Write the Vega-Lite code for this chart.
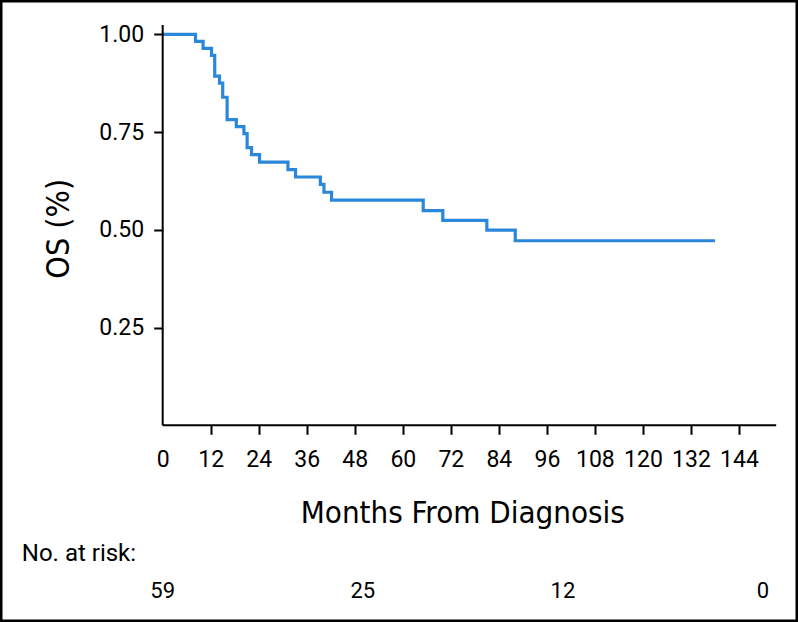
{
  "$schema": "https://vega.github.io/schema/vega-lite/v6.json",
  "width": 798,
  "height": 622,
  "autosize": "none",
  "padding": 0,
  "background": "white",
  "config": {
    "view": {"stroke": "black", "strokeWidth": 5},
    "axis": {"grid": false, "domain": false}
  },
  "layer": [
    {
      "data": {"values": [
        {"month": 0, "os": 1.0},
        {"month": 8.2, "os": 0.982},
        {"month": 10.1, "os": 0.964},
        {"month": 12.2, "os": 0.946},
        {"month": 13.0, "os": 0.893},
        {"month": 14.2, "os": 0.875},
        {"month": 15.0, "os": 0.839},
        {"month": 16.1, "os": 0.782},
        {"month": 18.4, "os": 0.764},
        {"month": 20.3, "os": 0.746},
        {"month": 21.1, "os": 0.71},
        {"month": 22.2, "os": 0.692},
        {"month": 24.2, "os": 0.673},
        {"month": 31.3, "os": 0.654},
        {"month": 33.2, "os": 0.635},
        {"month": 39.4, "os": 0.616},
        {"month": 40.3, "os": 0.596},
        {"month": 42.2, "os": 0.576},
        {"month": 65.1, "os": 0.549},
        {"month": 70.0, "os": 0.524},
        {"month": 81.0, "os": 0.499},
        {"month": 88.1, "os": 0.472},
        {"month": 138.0, "os": 0.472}
      ]},
      "mark": {"type": "line", "interpolate": "step-after", "color": "#2a87d9", "strokeWidth": 3.2},
      "encoding": {
        "x": {
          "field": "month", "type": "quantitative",
          "scale": {"domain": [-40.65, 158.75], "nice": false, "zero": false},
          "axis": {
            "orient": "bottom", "offset": -196.7,
            "values": [0, 12, 24, 36, 48, 60, 72, 84, 96, 108, 120, 132, 144],
            "tickSize": 9, "tickWidth": 2, "tickColor": "black",
            "tickOpacity": {"condition": {"test": "datum.value === 0", "value": 0}, "value": 1},
            "labelFont": "Roboto", "labelFontSize": 23, "labelColor": "black",
            "labelPadding": 32, "labelBaseline": "alphabetic", "labelFlush": false, "labelOverlap": false,
            "title": "Months From Diagnosis",
            "titleFont": "DejaVu Sans Condensed, DejaVu Sans, sans-serif",
            "titleFontSize": 31, "titleFontWeight": "normal", "titleColor": "black",
            "titleX": 462.3, "titleY": 97.4, "titleAlign": "center", "titleBaseline": "alphabetic", "titleAnchor": null
          }
        },
        "y": {
          "field": "os", "type": "quantitative",
          "scale": {"domain": [-0.5031, 1.0877], "nice": false, "zero": false},
          "axis": {
            "orient": "left", "offset": -162.7,
            "values": [0.25, 0.5, 0.75, 1.0], "format": ".2f",
            "tickSize": 9, "tickWidth": 2, "tickColor": "black",
            "labelFont": "Roboto", "labelFontSize": 23, "labelColor": "black",
            "labelPadding": 10, "labelFlush": false, "labelOverlap": false,
            "title": "OS (%)",
            "titleFont": "DejaVu Sans Condensed, DejaVu Sans, sans-serif",
            "titleFontSize": 32, "titleFontWeight": "normal", "titleColor": "black",
            "titleAngle": -90, "titleX": -94.4, "titleY": 228.3, "titleAlign": "center", "titleBaseline": "alphabetic", "titleAnchor": null
          }
        }
      }
    },
    {
      "data": {"values": [{}]},
      "mark": {"type": "rule", "color": "black", "strokeWidth": 2},
      "encoding": {
        "x": {"datum": 0, "type": "quantitative"},
        "x2": {"datum": 153.3},
        "y": {"datum": 0, "type": "quantitative"}
      }
    },
    {
      "data": {"values": [{}]},
      "mark": {"type": "rule", "color": "black", "strokeWidth": 2},
      "encoding": {
        "x": {"datum": 0, "type": "quantitative"},
        "y": {"datum": 0, "type": "quantitative"},
        "y2": {"datum": 1.024}
      }
    },
    {
      "data": {"values": [
        {"t": 0, "n": 59},
        {"t": 50, "n": 25},
        {"t": 100, "n": 12},
        {"t": 150, "n": 0}
      ]},
      "mark": {"type": "text", "font": "Roboto", "fontSize": 22, "color": "black", "align": "center", "baseline": "alphabetic"},
      "encoding": {
        "x": {"field": "t", "type": "quantitative"},
        "y": {"datum": -0.4425, "type": "quantitative"},
        "text": {"field": "n", "type": "nominal"}
      }
    },
    {
      "data": {"values": [{"label": "No. at risk:"}]},
      "mark": {"type": "text", "font": "Roboto", "fontSize": 24, "color": "black", "align": "left", "baseline": "alphabetic"},
      "encoding": {
        "x": {"datum": -35.2, "type": "quantitative"},
        "y": {"datum": -0.347, "type": "quantitative"},
        "text": {"field": "label", "type": "nominal"}
      }
    }
  ]
}
